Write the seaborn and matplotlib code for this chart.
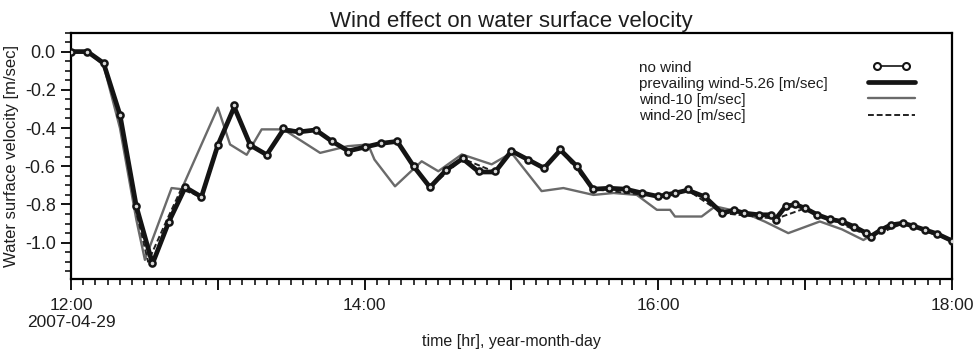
import numpy as np
import pandas as pd
import matplotlib
matplotlib.use("Agg")
import matplotlib.pyplot as plt
from matplotlib.ticker import MultipleLocator, FuncFormatter, FixedLocator
from matplotlib.lines import Line2D
from matplotlib.legend_handler import HandlerLine2D
import seaborn as sns

# ---------------- data (minutes after 12:00, velocity m/s) ----------------
t_main = [0, 6.7, 13.3, 20, 26.7, 33.3, 40, 46.7, 53.3, 60, 66.7, 73.3, 80, 86.7,
          93.3, 100, 106.7, 113.3, 120, 126.7, 133.3, 140, 146.7, 153.3, 160,
          166.7, 173.3, 180, 186.7, 193.3, 200, 206.7, 213.3, 220, 226.7, 233.3,
          240, 243, 247, 252, 259, 266, 271, 275, 281, 286, 288, 292, 296, 300,
          305, 310, 315, 320, 325, 327, 331, 335, 340, 344, 349, 354, 360]
v_no_wind = [0.0, 0.0, -0.06, -0.33, -0.81, -1.105, -0.89, -0.71, -0.76, -0.49,
             -0.28, -0.49, -0.54, -0.40, -0.415, -0.41, -0.47, -0.525, -0.50,
             -0.477, -0.468, -0.60, -0.71, -0.617, -0.556, -0.626, -0.626, -0.52,
             -0.565, -0.61, -0.512, -0.60, -0.72, -0.715, -0.72, -0.74, -0.758,
             -0.749, -0.74, -0.72, -0.758, -0.845, -0.83, -0.845, -0.854, -0.854,
             -0.88, -0.81, -0.80, -0.82, -0.854, -0.877, -0.889, -0.916, -0.95,
             -0.97, -0.933, -0.907, -0.898, -0.912, -0.933, -0.954, -0.99]
v_prevailing = [0.0, 0.0, -0.06, -0.33, -0.81, -1.11, -0.89, -0.71, -0.76, -0.49,
                -0.29, -0.49, -0.54, -0.41, -0.42, -0.41, -0.47, -0.52, -0.50,
                -0.48, -0.47, -0.60, -0.71, -0.62, -0.56, -0.63, -0.63, -0.52,
                -0.565, -0.61, -0.515, -0.60, -0.72, -0.715, -0.72, -0.74, -0.758,
                -0.75, -0.74, -0.725, -0.76, -0.845, -0.83, -0.845, -0.854, -0.854,
                -0.875, -0.81, -0.80, -0.82, -0.854, -0.877, -0.889, -0.916, -0.95,
                -0.965, -0.933, -0.907, -0.898, -0.912, -0.933, -0.954, -0.99]

t_wind20 = [0, 6.7, 13.3, 20, 26.7, 31.5, 38.5, 45, 53.3, 60, 66.7, 73.3, 80,
            86.7, 100, 113.3, 120, 133.3, 146.7, 160, 173.3, 180, 193.3, 200,
            213.3, 240, 252, 266, 288, 300, 327, 340, 360]
v_wind20 = [0.0, 0.0, -0.06, -0.34, -0.84, -1.10, -0.90, -0.72, -0.76, -0.50,
            -0.29, -0.49, -0.54, -0.41, -0.41, -0.52, -0.50, -0.47, -0.71, -0.56,
            -0.63, -0.52, -0.61, -0.515, -0.72, -0.758, -0.725, -0.845, -0.875,
            -0.82, -0.97, -0.898, -0.99]

t_wind10 = [0, 6.7, 13.3, 20, 26.7, 30.2, 41.1, 45.2, 60, 65, 71.8, 77.9, 86.8,
            101.8, 113, 121.4, 124, 132.4, 143.3, 150.1, 159.7, 171.9, 180,
            192.3, 201.2, 213.5, 221.7, 231.2, 239.4, 244.8, 246.8, 257.7, 263.2,
            275.4, 283.6, 293.1, 306, 315, 323.8, 331, 340, 349, 360]
v_wind10 = [0.0, 0.0, -0.07, -0.40, -0.88, -1.09, -0.714, -0.72, -0.293, -0.486,
            -0.54, -0.407, -0.407, -0.53, -0.495, -0.486, -0.565, -0.705, -0.574,
            -0.626, -0.538, -0.59, -0.53, -0.73, -0.714, -0.75, -0.74, -0.75,
            -0.828, -0.828, -0.863, -0.863, -0.81, -0.845, -0.89, -0.95, -0.889,
            -0.93, -0.986, -0.933, -0.898, -0.933, -0.99]

series_labels = ["no wind", "prevailing wind-5.26 [m/sec]",
                 "wind-10 [m/sec]", "wind-20 [m/sec]"]
x_tick_hours = [12, 14, 16, 18]
x_tick_labels = ["12:00\n2007-04-29", "14:00", "16:00", "18:00"]


def to_df(t, v):
    return pd.DataFrame({"hour": 12 + np.asarray(t) / 60.0, "v": v})


df_no = to_df(t_main, v_no_wind)
df_pw = to_df(t_main, v_prevailing)
df_w10 = to_df(t_wind10, v_wind10)
df_w20 = to_df(t_wind20, v_wind20)

# ---------------- styling ----------------
sns.set_style("ticks")
plt.rcParams["font.family"] = ["Liberation Sans", "DejaVu Sans"]
TXT = "#1e1e1e"
C_DARK = "#141414"
C_GRAY = "#6a6a6a"

W, H = 978, 354
fig = plt.figure(figsize=(W / 100, H / 100), dpi=100)
ax = fig.add_axes([71 / W, 1 - 279 / H, 881 / W, (279 - 32.5) / H])

sty_w10 = dict(color=C_GRAY, lw=1.7)
sty_w20 = dict(color="#222222", lw=1.4, linestyle=(0, (3, 1.5)))
sty_pw = dict(color=C_DARK, lw=3.4)
sty_no = dict(color=C_DARK, lw=1.2, marker="o", markersize=4.4,
              markerfacecolor="#d8d8d8", markeredgecolor=C_DARK,
              markeredgewidth=1.8)
sty_no_leg = dict(sty_no, markerfacecolor="white", markeredgewidth=1.5,
                  markersize=5)

sns.lineplot(data=df_w10, x="hour", y="v", ax=ax, zorder=2, legend=False, **sty_w10)
sns.lineplot(data=df_w20, x="hour", y="v", ax=ax, zorder=3, legend=False, **sty_w20)
sns.lineplot(data=df_pw, x="hour", y="v", ax=ax, zorder=4, legend=False, **sty_pw)
sns.lineplot(data=df_no, x="hour", y="v", ax=ax, zorder=5, legend=False, **sty_no)

ax.set_xlim(12, 18)
ax.set_ylim(-1.19, 0.10)

ax.xaxis.set_major_locator(MultipleLocator(1))
ax.xaxis.set_minor_locator(MultipleLocator(1 / 12))
lab_map = dict(zip(x_tick_hours, x_tick_labels))
ax.xaxis.set_major_formatter(FuncFormatter(
    lambda x, p: lab_map.get(int(round(x)), "")))
ax.yaxis.set_major_locator(FixedLocator([0.0, -0.2, -0.4, -0.6, -0.8, -1.0]))
ax.yaxis.set_major_formatter(FuncFormatter(
    lambda y, p: f"{y:.1f}" if abs(y) > 1e-9 else "0.0"))
ax.yaxis.set_minor_locator(MultipleLocator(0.05))

ax.tick_params(axis="x", which="major", direction="out", length=8, width=1.3,
               labelsize=12.5, pad=6, color="black", labelcolor=TXT)
ax.tick_params(axis="y", which="major", direction="out", length=7, width=1.3,
               labelsize=13, pad=4, color="black", labelcolor=TXT)
ax.tick_params(axis="both", which="minor", direction="out", length=4, width=1.1,
               color="black")
for lbl in ax.get_xticklabels():
    lbl.set_multialignment("center")
    lbl.set_linespacing(1.1)

for sp in ax.spines.values():
    sp.set_visible(True)
    sp.set_linewidth(1.6)
    sp.set_color("black")

ax.set_title("Wind effect on water surface velocity", fontsize=16, pad=3.5,
             color=TXT)
ax.set_xlabel("time [hr], year-month-day", fontsize=11.5, color=TXT,
              labelpad=3)
ax.set_ylabel("Water surface velocity [m/sec]", fontsize=12, color=TXT,
              labelpad=4)

# ---------------- legend: labels left-aligned, handles at the right ----------------
handles = [Line2D([], [], **sty_no_leg), Line2D([], [], **sty_pw),
           Line2D([], [], **sty_w10), Line2D([], [], **sty_w20)]
y_anchor = 1 - 60.5 / H
leg_txt = fig.legend(handles, series_labels, loc="upper left",
                     bbox_to_anchor=(639 / W, y_anchor), frameon=False,
                     fontsize=11, handlelength=0, handletextpad=0,
                     labelspacing=0.14, borderpad=0, borderaxespad=0)
for h in leg_txt.legend_handles:
    h.set_visible(False)
for t in leg_txt.get_texts():
    t.set_color(TXT)
leg_h = fig.legend(handles, [""] * 4, loc="upper right",
                   bbox_to_anchor=(920 / W, y_anchor), frameon=False,
                   fontsize=11, handlelength=3.7, handletextpad=0,
                   labelspacing=0.14, borderpad=0, borderaxespad=0,
                   numpoints=2,
                   handler_map={handles[0]: HandlerLine2D(marker_pad=0.9, numpoints=2)})

fig.savefig("out.png", dpi=100, facecolor="white")
